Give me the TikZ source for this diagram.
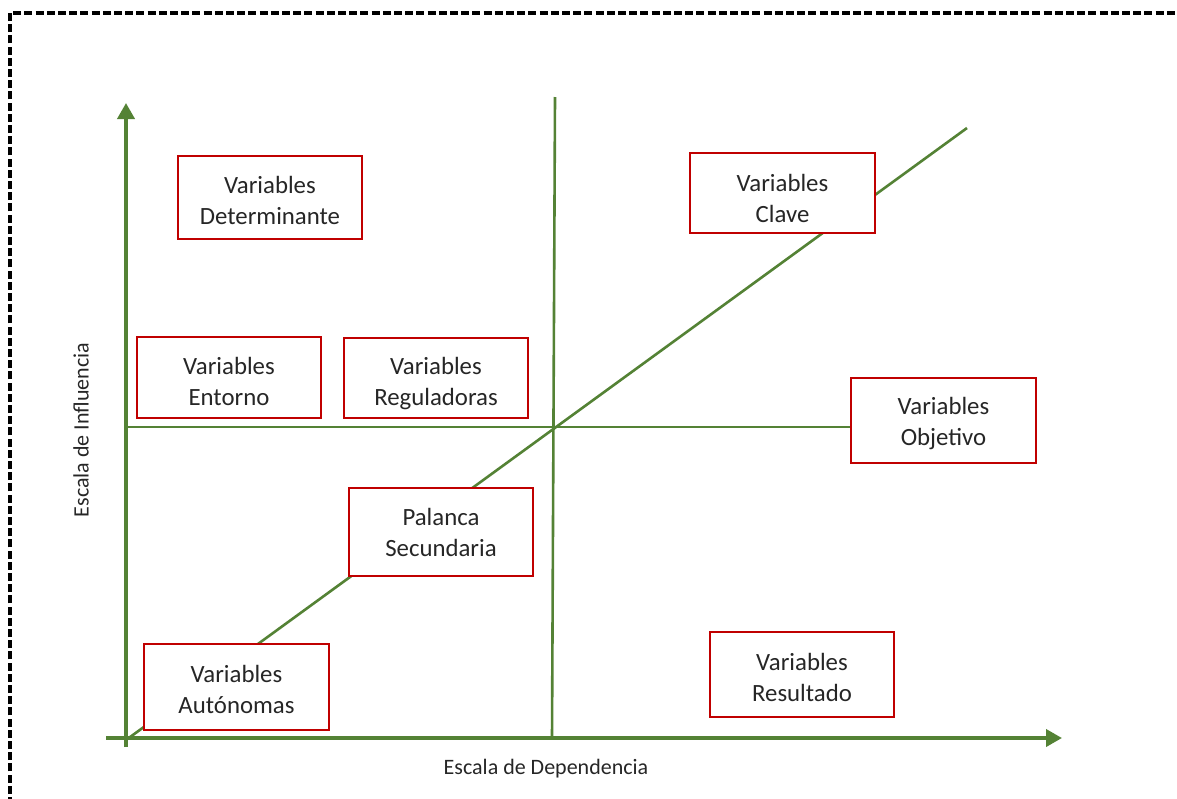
\documentclass[tikz,border=0pt]{standalone}
\usepackage{fontspec}
\setmainfont{Carlito}
\usetikzlibrary{arrows.meta}
\definecolor{axisgreen}{RGB}{84,130,53}
\definecolor{boxred}{RGB}{192,0,0}
\definecolor{labelgrey}{RGB}{38,38,38}
\begin{document}
\begin{tikzpicture}[x=1pt,y=-1pt,
  varbox/.style={draw=boxred, line width=2.8pt, fill=white, inner sep=0pt},
  vartext/.style={align=center, inner sep=0pt, text=labelgrey,
    font=\fontsize{24.8}{31}\selectfont},
  axis/.style={draw=axisgreen, line width=3.8pt, -{Triangle[width=17pt,length=16pt]}},
  guide/.style={draw=axisgreen, line width=2.6pt},
  axislabel/.style={text=labelgrey, font=\fontsize{22}{26}\selectfont, inner sep=0pt}]
\useasboundingbox (0,0) rectangle (1177,798);

% dashed frame
\draw[line width=3.4pt, dash pattern=on 8pt off 3.2pt] (10,805) -- (10,13) -- (1185,13);

% reference points of the grid
\coordinate (xstart) at (106,738);
\coordinate (xend) at (1062,738);
\coordinate (ystart) at (126,747);
\coordinate (yend) at (126,103);
\coordinate (vtop) at (555,97);
\coordinate (vbot) at (552,738);
\coordinate (hleft) at (126,427);
\coordinate (dstart) at (126,740);
\coordinate (dend) at (967,128);

% quadrant guides
\draw[guide] (vtop) -- (vbot);
\draw[guide] (dstart) -- (dend);

% axes
\draw[axis] (ystart) -- (yend);
\draw[axis] (xstart) -- (xend);

% variable boxes
\node[varbox, minimum width=184pt, minimum height=83pt] (det) at (270,197.5) {};
\node[varbox, minimum width=185pt, minimum height=80pt] (clave) at (782.5,193) {};
\node[varbox, minimum width=184pt, minimum height=81pt] (ent) at (229,377.5) {};
\node[varbox, minimum width=184pt, minimum height=80pt] (reg) at (436,378) {};
\node[varbox, minimum width=185pt, minimum height=85pt] (obj) at (943.5,420.5) {};
\node[varbox, minimum width=184pt, minimum height=88pt] (pal) at (441,532) {};
\node[varbox, minimum width=185pt, minimum height=86pt] (aut) at (236.5,687) {};
\node[varbox, minimum width=184pt, minimum height=85pt] (res) at (802,674.5) {};

% box captions, set a little below the box centres
\node[vartext] (dett) at ([yshift=-3pt]det.center) {Variables\\Determinante};
\node[vartext] (clavet) at ([yshift=-5pt]clave.center) {Variables\\Clave};
\node[vartext] (entt) at ([yshift=-4pt]ent.center) {Variables\\Entorno};
\node[vartext] (regt) at ([yshift=-6pt]reg.center) {Variables\\Reguladoras};
\node[vartext] (objt) at ([yshift=-3pt]obj.center) {Variables\\Objetivo};
\node[vartext] (palt) at ([yshift=0pt]pal.center) {Palanca\\Secundaria};
\node[vartext] (autt) at ([yshift=-2pt]aut.center) {Variables\\Autónomas};
\node[vartext] (rest) at ([yshift=-3pt]res.center) {Variables\\Resultado};

% horizontal guide ends at the objective box
\draw[guide] (hleft) -- (hleft -| obj.west);

% axis titles
\node[axislabel] (xlabel) at (546,769) {Escala de Dependencia};
\node[axislabel, rotate=90] (ylabel) at (81,430) {Escala de Influencia};
\end{tikzpicture}
\end{document}
